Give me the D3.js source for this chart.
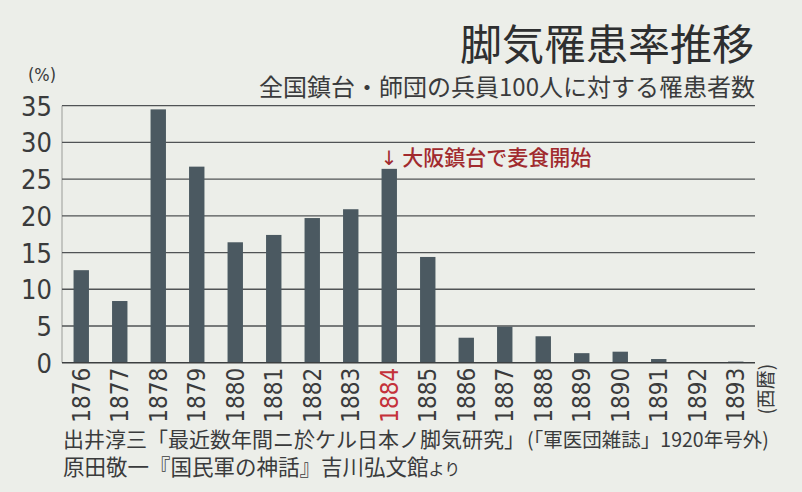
<!DOCTYPE html>
<html>
<head>
<meta charset="utf-8">
<script src="https://cdn.jsdelivr.net/npm/d3@7"></script>
<style>
  html, body { margin: 0; padding: 0; background: #eceee9; }
  svg { display: block; }
</style>
</head>
<body>
<svg id="chart" width="802" height="492"></svg>
<script>
// ---- data ----
const years = ["1876","1877","1878","1879","1880","1881","1882","1883","1884","1885","1886","1887","1888","1889","1890","1891","1892","1893"];
const rates = [12.6, 8.4, 34.5, 26.7, 16.4, 17.4, 19.7, 20.9, 26.4, 14.4, 3.4, 4.9, 3.6, 1.3, 1.5, 0.5, 0.05, 0.15];
const yTicks = [0, 5, 10, 15, 20, 25, 30, 35];
const highlightYear = "1884";
const title = "脚気罹患率推移";
const subtitle = "全国鎮台・師団の兵員100人に対する罹患者数";
const annotation = "大阪鎮台で麦食開始";
const unitLabel = "(%)";
const xUnitLabel = "(西暦)";
const source1Main = "出井淳三「最近数年間ニ於ケル日本ノ脚気研究」";
const source1Sub = "(「軍医団雑誌」1920年号外)";
const source2Main = "原田敬一『国民軍の神話』吉川弘文館";
const source2Sub = "より";

// ---- layout ----
const svg = d3.select("#chart");
const plot = { left: 62, right: 755, top: 105.7, bottom: 362.7 };
const numFont = "'Liberation Sans Narrow', 'DejaVu Sans Condensed', 'Roboto', sans-serif";
const jpFont = "'Noto Sans CJK JP', 'Noto Sans', sans-serif";
const textColor = "#3a3b3c";

const x = d3.scaleBand().domain(years).range([plot.left, plot.right]).paddingInner(0.6).paddingOuter(0.3);
const y = d3.scaleLinear().domain([0, 35]).range([plot.bottom, plot.top]);

// background
svg.append("rect").attr("width", 802).attr("height", 492).attr("fill", "#eceee9");

// left vertical line
svg.append("line")
  .attr("x1", plot.left).attr("x2", plot.left)
  .attr("y1", y(35)).attr("y2", y(0))
  .attr("stroke", "#9a9c98").attr("stroke-width", 1);

// gridlines
svg.append("g").selectAll("line")
  .data(yTicks.filter(d => d > 0))
  .join("line")
  .attr("x1", plot.left).attr("x2", plot.right)
  .attr("y1", d => y(d)).attr("y2", d => y(d))
  .attr("stroke", "#505355").attr("stroke-width", 1.3);

// y tick labels via axis
const yAxis = svg.append("g")
  .attr("transform", `translate(${plot.left - 10},0)`)
  .call(d3.axisLeft(y).tickValues(yTicks).tickSize(0).tickPadding(0));
yAxis.select(".domain").remove();
yAxis.selectAll("text")
  .attr("font-family", numFont).attr("font-size", 27).attr("fill", textColor)
  .attr("dy", "0.35em");

// unit label
svg.append("text").attr("x", 28).attr("y", 81)
  .attr("font-family", numFont).attr("font-size", 18).attr("fill", textColor)
  .text(unitLabel);

// bars
svg.append("g").selectAll("rect")
  .data(years.map((yr, i) => ({ yr, v: rates[i] })))
  .join("rect")
  .attr("x", d => x(d.yr))
  .attr("width", x.bandwidth())
  .attr("y", d => y(d.v))
  .attr("height", d => y(0) - y(d.v))
  .attr("fill", "#4b5961");

// zero axis line
svg.append("line")
  .attr("x1", plot.left).attr("x2", plot.right)
  .attr("y1", y(0)).attr("y2", y(0))
  .attr("stroke", "#3c3f41").attr("stroke-width", 1.5);

// x labels (rotated)
const xAxis = svg.append("g")
  .attr("transform", `translate(0,${plot.bottom + 5})`)
  .call(d3.axisBottom(x).tickSize(0).tickPadding(0));
xAxis.select(".domain").remove();
xAxis.selectAll("text")
  .attr("font-family", numFont).attr("font-size", 24)
  .attr("fill", d => d === highlightYear ? "#c4313a" : textColor)
  .attr("text-anchor", "end")
  .attr("transform", "rotate(-90)")
  .attr("x", 0).attr("y", 0).attr("dy", "0.35em");

// (西暦)
svg.append("text")
  .attr("transform", `translate(${plot.right + 11},${plot.bottom + 1}) rotate(-90)`)
  .attr("text-anchor", "end").attr("dy", "0.35em")
  .attr("font-family", jpFont).attr("font-size", 19).attr("fill", textColor)
  .text(xUnitLabel);

// annotation
const ax = x(highlightYear) + x.bandwidth() / 2;
const ay = y(rates[years.indexOf(highlightYear)]) - 4;
svg.append("text").attr("x", ax).attr("y", ay)
  .attr("text-anchor", "middle")
  .attr("font-family", "'DejaVu Sans', sans-serif").attr("font-size", 20).attr("fill", "#a12a2e")
  .text("↓");
svg.append("text").attr("x", ax + 13).attr("y", ay)
  .attr("font-family", jpFont).attr("font-size", 21).attr("font-weight", 500).attr("fill", "#a12a2e")
  .text(annotation);

// title + subtitle
svg.append("text").attr("x", 754).attr("y", 60)
  .attr("text-anchor", "end")
  .attr("font-family", jpFont).attr("font-size", 42).attr("font-weight", 400).attr("fill", "#2e2f30")
  .text(title);
svg.append("text").attr("x", 755).attr("y", 96)
  .attr("text-anchor", "end")
  .attr("font-family", jpFont).attr("font-size", 24).attr("font-weight", 400).attr("fill", textColor)
  .text(subtitle);

// sources
const s1 = svg.append("text").attr("x", 63).attr("y", 447)
  .attr("font-family", jpFont).attr("fill", textColor);
s1.append("tspan").attr("font-size", 21).text(source1Main);
s1.append("tspan").attr("font-size", 19.5).attr("dx", 2).text(source1Sub);
const s2 = svg.append("text").attr("x", 63).attr("y", 475)
  .attr("font-family", jpFont).attr("fill", textColor);
s2.append("tspan").attr("font-size", 21.5).text(source2Main);
s2.append("tspan").attr("font-size", 16).text(source2Sub);
</script>
</body>
</html>
